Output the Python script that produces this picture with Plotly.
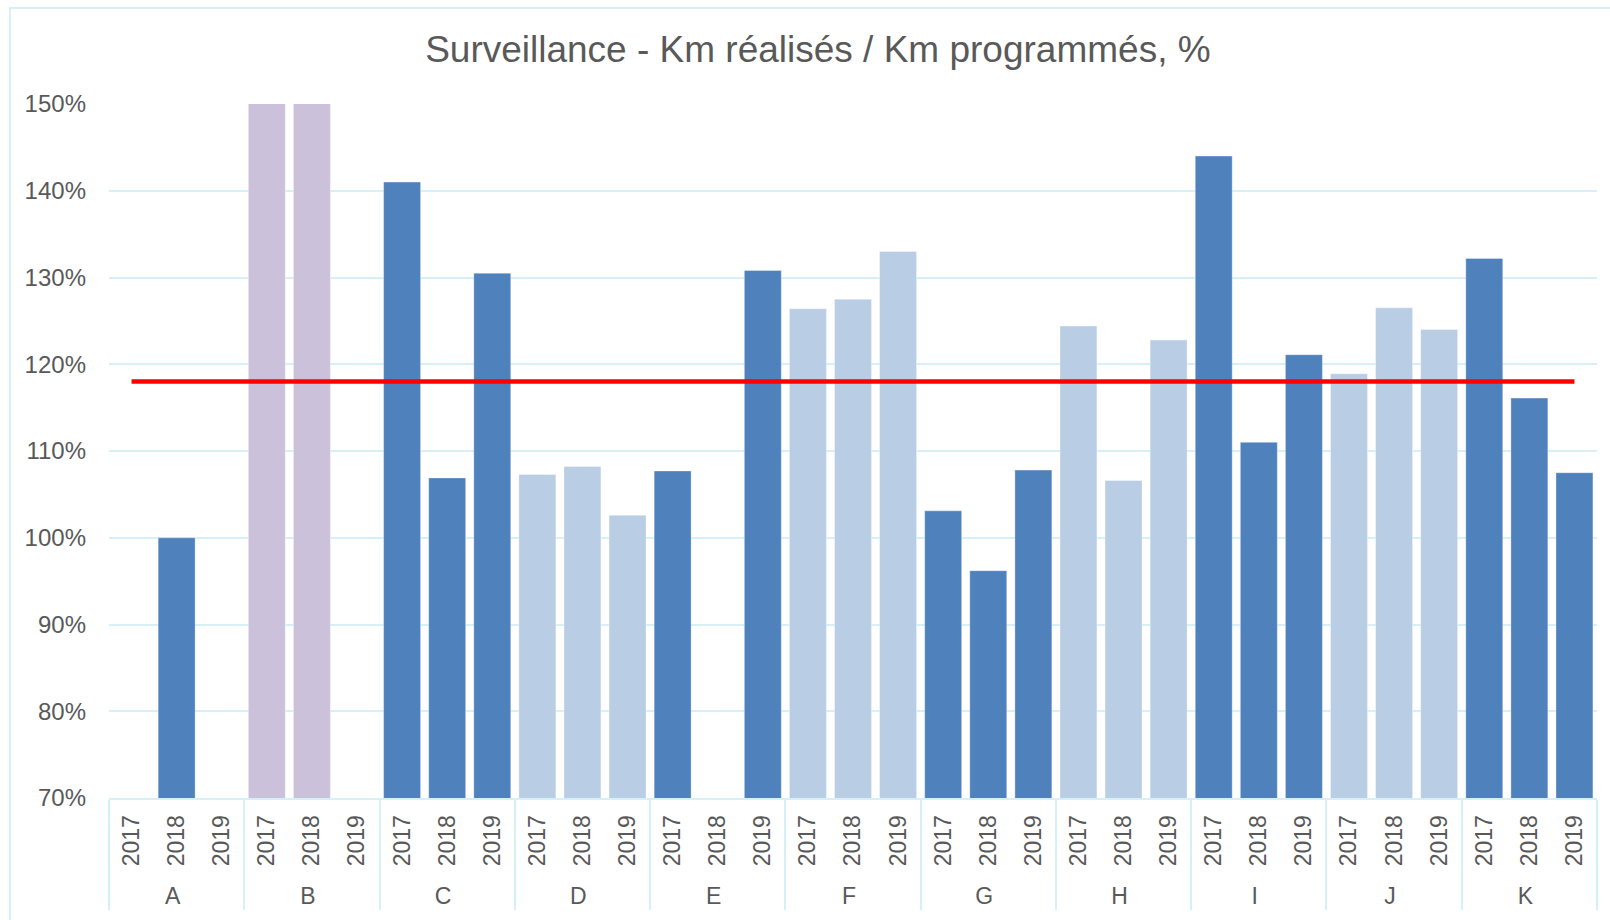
import plotly.graph_objects as go

sites = ["A", "B", "C", "D", "E", "F", "G", "H", "I", "J", "K"]
years = ["2017", "2018", "2019"]
values = [
    [None, 100.0, None],
    [150.3, 150.3, None],
    [141.0, 106.9, 130.5],
    [107.3, 108.2, 102.6],
    [107.7, None, 130.8],
    [126.4, 127.5, 133.0],
    [103.1, 96.2, 107.8],
    [124.4, 106.6, 122.8],
    [144.0, 111.0, 121.1],
    [118.9, 126.5, 124.0],
    [132.2, 116.1, 107.5],
]
site_colors = ["#4F81BD", "#CCC1DA", "#4F81BD", "#B9CDE5", "#4F81BD", "#B9CDE5",
               "#4F81BD", "#B9CDE5", "#4F81BD", "#B9CDE5", "#4F81BD"]
target = 118.0

TXT = "#595959"
GRID = "#D7F0F8"
FONT = "Liberation Sans, Arial, sans-serif"

xs_site, xs_year, ys, cols = [], [], [], []
for s, vals, c in zip(sites, values, site_colors):
    for yr, v in zip(years, vals):
        xs_site.append(s)
        xs_year.append(yr)
        ys.append(v)
        cols.append(c)

fig = go.Figure()
fig.add_trace(go.Bar(
    x=[xs_site, xs_year], y=ys,
    marker=dict(color=cols, line=dict(color="rgba(255,255,255,0.35)", width=1)),
    hoverinfo="skip", showlegend=False,
))
fig.add_trace(go.Scatter(
    x=[[sites[0], sites[-1]], [years[0], years[-1]]], y=[target, target],
    mode="lines", line=dict(color="#FF0000", width=4.5),
    hoverinfo="skip", showlegend=False,
))

fig.update_layout(
    width=1610, height=920,
    margin=dict(l=109, r=13, t=104, b=122),
    paper_bgcolor="white", plot_bgcolor="white",
    bargap=0.18,
    font=dict(family=FONT, color=TXT, size=23),
    title=dict(text="Surveillance - Km réalisés / Km programmés, %",
               font=dict(family=FONT, size=37, color=TXT),
               x=0.508, xref="container", xanchor="center",
               y=1 - 49 / 920, yref="container", yanchor="middle"),
    xaxis=dict(type="multicategory", tickangle=-90, showgrid=False,
               showline=True, linecolor=GRID, linewidth=2,
               showdividers=True, dividercolor=GRID, dividerwidth=2,
               ticks="", ticklabelstandoff=6, tickfont=dict(size=23, color=TXT)),
    yaxis=dict(range=[70, 150], dtick=10, ticksuffix="%",
               showgrid=True, gridcolor=GRID, gridwidth=2,
               zeroline=False, showline=False, ticks="",
               ticklabelstandoff=22, tickfont=dict(size=24, color=TXT)),
    shapes=[dict(type="rect", xref="paper", yref="paper",
                 x0=-99 / 1488, x1=1.2, y0=-0.5, y1=1 + 96 / 694,
                 line=dict(color=GRID, width=2), fillcolor="rgba(0,0,0,0)",
                 layer="below")],
)

fig.write_html("out.html", config={"displayModeBar": False},
               post_script="document.body.style.margin='0';document.body.style.overflow='hidden';")
